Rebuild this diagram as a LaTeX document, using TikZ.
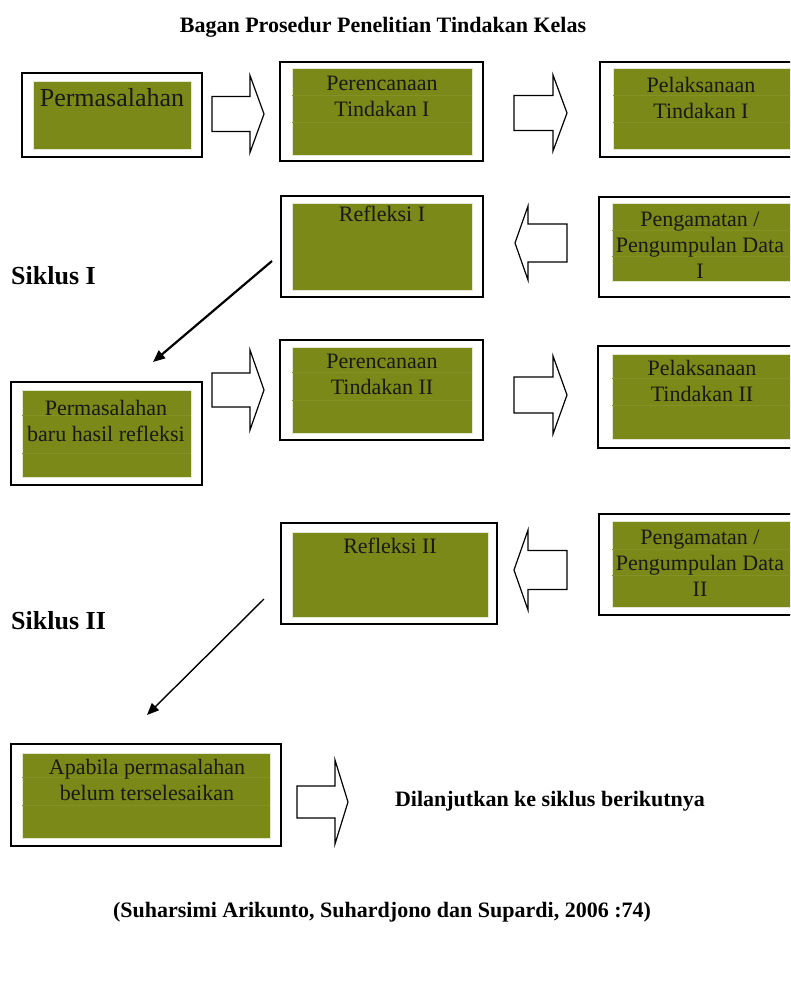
\documentclass[tikz,border=0pt]{standalone}
\usepackage{fontspec}
\setmainfont{Liberation Serif}
\usetikzlibrary{fit,arrows.meta}
\definecolor{boxgreen}{RGB}{122,137,24}
\definecolor{boxline}{RGB}{131,146,36}
\newcommand\blockarrow[7]{% name, base x, neck x, tip x, centre y, body half, head half
  \draw[blk] ({#2},{#5-#6}) -- ({#3},{#5-#6}) -- ({#3},{#5-#7}) -- ({#4},{#5})
    -- ({#3},{#5+#7}) -- ({#3},{#5+#6}) -- ({#2},{#5+#6}) -- cycle;
  \coordinate (#1) at ({#4},{#5});}
\begin{document}
\begin{tikzpicture}[x=1pt,y=-1pt,
  frame/.style={draw=black, line width=1.4pt, fill=white, inner sep=0pt},
  gbox/.style={fill=boxgreen, draw=white!80!boxgreen, line width=0.6pt, inner sep=0pt},
  txt/.style={font=\fontsize{22}{26}\selectfont, align=center, inner sep=0pt, text=black!90},
  bigtxt/.style={font=\fontsize{26}{30}\selectfont, align=center, inner sep=0pt, text=black!90},
  btxt/.style={font=\fontsize{22}{26}\selectfont\bfseries, inner sep=0pt},
  siklus/.style={font=\fontsize{26}{30}\selectfont\bfseries, inner sep=0pt, anchor=west},
  faint/.style={draw=boxline, line width=0.4pt},
  blk/.style={draw=black, line width=1.2pt, fill=white, line join=miter},
  diag/.style={draw=black, -{Triangle[length=12pt,width=10pt]}}]
\useasboundingbox (0,0) rectangle (790,985);
\clip (0,0) rectangle (790,985);
\fill[white] (0,0) rectangle (790,985);

% title
\node[btxt] (title) at (383,27) {Bagan Prosedur Penelitian Tindakan Kelas};

% ---------- row 1
\node[frame, fit={(22,73)(202,157)}] (b1) {};
\node[gbox, fit={(33,81)(191,149)}] (g1) {};
\node[bigtxt] (t1) at (112,98) {Permasalahan};

\node[frame, fit={(280,62)(483,161)}] (b2) {};
\node[gbox, fit={(292,68)(472,155)}] (g2) {};
\draw[faint] (292,95) -- (472,95) (292,122) -- (472,122);
\node[txt] (t2) at (382,96) {Perencanaan\\Tindakan I};

\node[frame, fit={(600,62)(805,157)}] (b3) {};
\node[gbox, fit={(613,68)(805,149)}] (g3) {};
\draw[faint] (613,95) -- (805,95) (613,122) -- (805,122);
\node[txt] (t3) at (701,98) {Pelaksanaan\\Tindakan I};

\blockarrow{a1}{212}{250}{264}{114}{17.5}{38.5}
\blockarrow{a2}{514}{553}{567}{113}{17.5}{38}

% ---------- row 2
\node[frame, fit={(281,196)(483,297)}] (b4) {};
\node[gbox, fit={(292,203)(472,290)}] (g4) {};
\node[txt] (t4) at (382,214) {Refleksi I};

\node[frame, fit={(599,197)(805,297)}] (b5) {};
\node[gbox, fit={(612,203)(805,281)}] (g5) {};
\draw[faint] (612,230) -- (805,230) (612,256) -- (805,256);
\node[txt] (t5) at (700,245) {Pengamatan /\\Pengumpulan Data\\I};

\blockarrow{a3}{567}{528}{515}{243}{19}{37}

\node[siklus] (s1) at (11,276) {Siklus I};

\coordinate (d1s) at (272,261);
\coordinate (d1e) at (153,362);
\draw[diag, line width=2.2pt] (d1s) -- (d1e);

% ---------- row 3
\node[frame, fit={(11,382)(202,485)}] (b6) {};
\node[gbox, fit={(22,390)(191,477)}] (g6) {};
\draw[faint] (22,415) -- (191,415) (22,453) -- (191,453);
\node[txt] (t6) at (106,421) {Permasalahan\\baru hasil refleksi};

\node[frame, fit={(280,340)(483,440)}] (b7) {};
\node[gbox, fit={(292,347)(472,433)}] (g7) {};
\draw[faint] (292,372) -- (472,372) (292,400) -- (472,400);
\node[txt] (t7) at (382,374) {Perencanaan\\Tindakan II};

\node[frame, fit={(598,346)(805,448)}] (b8) {};
\node[gbox, fit={(612,354)(805,439)}] (g8) {};
\draw[faint] (612,378) -- (805,378) (612,405) -- (805,405);
\node[txt] (t8) at (702,381) {Pelaksanaan\\Tindakan II};

\blockarrow{a4}{212}{250}{264}{390}{17}{40}
\blockarrow{a5}{514}{553}{567}{395}{18}{39}

% ---------- row 4
\node[frame, fit={(281,523)(497,624)}] (b9) {};
\node[gbox, fit={(292,532)(488,617)}] (g9) {};
\node[txt] (t9) at (390,546) {Refleksi II};

\node[frame, fit={(599,514)(805,615)}] (b10) {};
\node[gbox, fit={(612,521)(805,607)}] (g10) {};
\draw[faint] (612,549) -- (805,549) (612,575) -- (805,575);
\node[txt] (t10) at (700,563) {Pengamatan /\\Pengumpulan Data\\II};

\blockarrow{a6}{567}{528}{514}{570}{19.5}{40}

\node[siklus] (s2) at (11,621) {Siklus II};

\coordinate (d2s) at (264,599);
\coordinate (d2e) at (147,715);
\draw[diag, line width=1.4pt] (d2s) -- (d2e);

% ---------- row 5
\node[frame, fit={(11,744)(281,846)}] (b11) {};
\node[gbox, fit={(22,753)(270,838)}] (g11) {};
\draw[faint] (22,777) -- (270,777) (22,805) -- (270,805);
\node[txt] (t11) at (147,780) {Apabila permasalahan\\belum terselesaikan};

\blockarrow{a7}{297}{335}{348}{802}{16}{42}

\node[btxt] (t12) at (550,801) {Dilanjutkan ke siklus berikutnya};

\node[btxt] (cite) at (382,912) {(Suharsimi Arikunto, Suhardjono dan Supardi, 2006 :74)};
\end{tikzpicture}
\end{document}
